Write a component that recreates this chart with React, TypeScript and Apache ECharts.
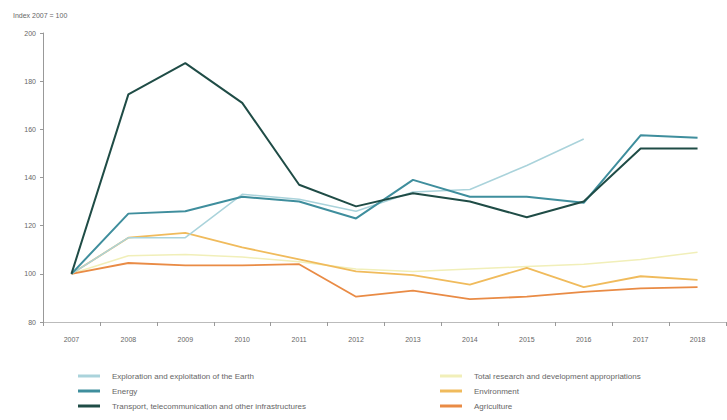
import React, { useEffect, useRef } from "react";
import * as echarts from "echarts";

const years = ["2007", "2008", "2009", "2010", "2011", "2012", "2013", "2014", "2015", "2016", "2017", "2018"];
const exploration = [100, 115, 115, 133, 131, 126, 134, 135, 145, 156, null, null];
const totalRD = [100, 107.5, 108, 107, 105, 102, 101, 102, 103, 104, 106, 109];
const energy = [100, 125, 126, 132, 130, 123, 139, 132, 132, 129.5, 157.5, 156.5];
const environment = [100, 115, 117, 111, 106, 101, 99.5, 95.5, 102.5, 94.5, 99, 97.5];
const transport = [100, 174.5, 187.5, 171, 137, 128, 133.5, 130, 123.5, 130, 152, 152];
const agriculture = [100, 104.5, 103.5, 103.5, 104, 90.5, 93, 89.5, 90.5, 92.5, 94, 94.5];
const yTicks = { min: 80, max: 200, interval: 20 };

const names = {
  exploration: "Exploration and exploitation of the Earth",
  totalRD: "Total research and development appropriations",
  energy: "Energy",
  environment: "Environment",
  transport: "Transport, telecommunication and other infrastructures",
  agriculture: "Agriculture",
};

export default function App() {
  const ref = useRef<HTMLDivElement>(null);
  useEffect(() => {
    if (!ref.current) return;
    const chart = echarts.init(ref.current, undefined, { renderer: "svg" });
    const mk = (name: string, data: (number | null)[], color: string, width: number, z: number) => ({
      name,
      type: "line",
      data,
      symbol: "none",
      z,
      lineStyle: { color, width },
      itemStyle: { color },
    });
    const legendCommon = {
      orient: "vertical",
      itemWidth: 22,
      itemHeight: 3,
      itemGap: 5,
      height: 48,
      padding: 0,
      icon: "rect",
      textStyle: { fontSize: 8, lineHeight: 10, color: "#666", fontFamily: "Liberation Sans", padding: [0, 0, 0, 7] },
    };
    chart.setOption({
      animation: false,
      textStyle: { fontFamily: "Liberation Sans" },
      title: {
        text: "Index 2007 = 100",
        left: 8,
        top: 7,
        textStyle: { fontSize: 7, color: "#666", fontWeight: "normal" },
      },
      grid: { left: 43, right: 1, top: 33, bottom: 98 },
      xAxis: {
        type: "category",
        data: years,
        boundaryGap: true,
        axisLine: { lineStyle: { color: "#bbb", width: 1 } },
        axisTick: { show: true, length: 4, lineStyle: { color: "#999" } },
        axisLabel: { fontSize: 7, color: "#666", margin: 14 },
      },
      yAxis: {
        type: "value",
        min: yTicks.min,
        max: yTicks.max,
        interval: yTicks.interval,
        axisLine: { show: true, lineStyle: { color: "#999", width: 1 } },
        axisTick: { show: true, length: 3, lineStyle: { color: "#999" } },
        splitLine: { show: false },
        axisLabel: { fontSize: 7, color: "#666", margin: 7 },
      },
      legend: [
        { ...legendCommon, left: 78, top: 371, data: [names.exploration, names.energy, names.transport] },
        { ...legendCommon, left: 440, top: 371, data: [names.totalRD, names.environment, names.agriculture] },
      ],
      series: [
        mk(names.totalRD, totalRD, "#f1efb9", 1.5, 1),
        mk(names.agriculture, agriculture, "#e98b45", 1.8, 2),
        mk(names.environment, environment, "#f0bb5c", 1.8, 3),
        mk(names.exploration, exploration, "#aad3db", 1.5, 4),
        mk(names.energy, energy, "#3f8e9d", 2, 5),
        mk(names.transport, transport, "#1f4c46", 2, 6),
      ],
    });
    return () => chart.dispose();
  }, []);
  return <div ref={ref} style={{ width: 727, height: 420, position: "absolute", left: 0, top: 0 }} />;
}
